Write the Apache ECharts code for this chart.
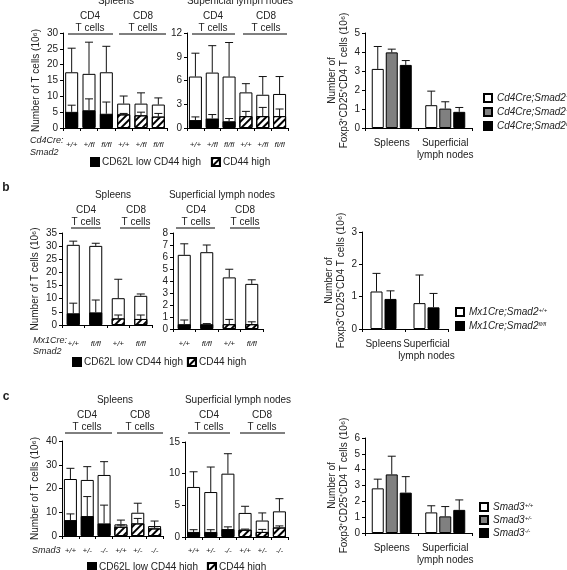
<!DOCTYPE html>
<html>
<head>
<meta charset="utf-8">
<script src="https://cdn.jsdelivr.net/npm/echarts@6/dist/echarts.min.js"></script>
<style>
html, body { margin: 0; padding: 0; background: #fff; }
#main { width: 567px; height: 570px; }
</style>
</head>
<body>
<div id="main"></div>
<script>
// ---- panel a : Cd4Cre;Smad2 ----
let a_geno = ['+/+', '+/fl', 'fl/fl', '+/+', '+/fl', 'fl/fl'];
let a_spl_total = [17.6, 17.1, 17.6, 7.7, 7.7, 7.4];
let a_spl_total_err = [25.2, 27.1, 25.8, 10.1, 11.1, 9.5];
let a_spl_sub = [5.1, 5.6, 4.5, 4.3, 4.0, 3.6];
let a_spl_sub_err = [7.2, 9.2, 8.2, 4.6, 5.0, 4.6];
let a_ln_total = [6.5, 7.0, 6.5, 4.5, 4.2, 4.3];
let a_ln_total_err = [9.45, 10.4, 10.8, 5.6, 6.5, 6.5];
let a_ln_sub = [1.0, 1.2, 0.85, 1.5, 1.5, 1.5];
let a_ln_sub_err = [1.4, 1.7, 1.2, 2.1, 2.6, 2.4];
let a_fox_names = ['Cd4Cre;Smad2+/+', 'Cd4Cre;Smad2+/fl', 'Cd4Cre;Smad2fl/fl'];
let a_fox_mean = [[3.11, 1.2], [3.98, 1.02], [3.32, 0.85]];
let a_fox_err = [[4.29, 1.94], [4.15, 1.38], [3.55, 1.08]];

// ---- panel b : Mx1Cre;Smad2 ----
let b_geno = ['+/+', 'fl/fl', '+/+', 'fl/fl'];
let b_spl_total = [30.5, 30.1, 10.2, 11.1];
let b_spl_total_err = [31.9, 31.1, 17.4, 11.8];
let b_spl_sub = [4.45, 4.8, 2.5, 2.3];
let b_spl_sub_err = [8.3, 9.5, 3.8, 3.8];
let b_ln_total = [6.18, 6.4, 4.3, 3.76];
let b_ln_total_err = [7.1, 7.0, 4.98, 4.1];
let b_ln_sub = [0.4, 0.4, 0.4, 0.4];
let b_ln_sub_err = [0.75, 0.45, 0.8, 0.6];
let b_fox_names = ['Mx1Cre;Smad2+/+', 'Mx1Cre;Smad2fl/fl'];
let b_fox_mean = [[1.16, 0.8], [0.93, 0.67]];
let b_fox_err = [[1.72, 1.67], [1.18, 1.1]];

// ---- panel c : Smad3 ----
let c_geno = ['+/+', '+/-', '-/-', '+/+', '+/-', '-/-'];
let c_spl_total = [24.0, 23.6, 25.7, 4.9, 9.8, 4.2];
let c_spl_total_err = [28.5, 29.2, 31.3, 6.7, 13.8, 6.3];
let c_spl_sub = [6.7, 8.4, 5.3, 3.9, 5.3, 3.2];
let c_spl_sub_err = [9.3, 16.6, 13.0, 4.6, 7.4, 3.9];
let c_ln_total = [7.9, 7.1, 10.0, 3.8, 2.6, 4.05];
let c_ln_total_err = [10.3, 11.05, 13.15, 4.85, 3.8, 6.05];
let c_ln_sub = [0.8, 0.8, 1.25, 1.15, 0.8, 1.5];
let c_ln_sub_err = [1.15, 1.15, 1.6, 1.25, 1.2, 1.75];
let c_fox_names = ['Smad3+/+', 'Smad3+/-', 'Smad3-/-'];
let c_fox_mean = [[2.82, 1.3], [3.7, 1.05], [2.55, 1.46]];
let c_fox_err = [[3.4, 1.72], [4.85, 1.67], [3.56, 2.09]];

let fox_cats = ['Spleens', 'Superficial\nlymph nodes'];
let fox_colors = ['#ffffff', '#808080', '#000000'];

const FONT = '"Liberation Sans", Arial, sans-serif';
const TXT = '#222';
const BAR_W = 13;
const FOX_W = 12;
const FOX_GAP = 2;

let black_style = {color: '#000', borderColor: '#000', borderWidth: 1};
let white_style = {color: '#fff', borderColor: '#000', borderWidth: 1};
let hatch_style = {
    color: '#fff', borderColor: '#000', borderWidth: 1,
    decal: {symbol: 'rect', symbolSize: 1, color: '#000', dashArrayX: [1, 0], dashArrayY: [2, 3], rotation: -Math.PI / 4}
};

// error bar: vertical line from mean to mean+sd, with a cap
function err_render(offset) {
    return function (params, api) {
        let i = api.value(0);
        let p_top = api.coord([i, api.value(1)]);
        let p_base = api.coord([i, api.value(2)]);
        let cx = p_base[0] + offset;
        return {
            type: 'group',
            children: [
                {type: 'line', shape: {x1: cx, y1: p_base[1], x2: cx, y2: p_top[1]}, style: {stroke: '#111', lineWidth: 1}},
                {type: 'line', shape: {x1: cx - 4, y1: p_top[1], x2: cx + 4, y2: p_top[1]}, style: {stroke: '#111', lineWidth: 1}}
            ]
        };
    };
}

function y_axis(grid, max, step, name, gap) {
    return {
        type: 'value', gridIndex: grid, min: 0, max: max, interval: step,
        name: name || '', nameLocation: 'middle', nameRotate: 90, nameGap: gap || 0,
        nameTextStyle: {fontFamily: FONT, fontSize: 10, color: TXT, lineHeight: 12},
        axisLine: {show: true, lineStyle: {color: '#000', width: 1}},
        axisTick: {show: true, length: 3, lineStyle: {color: '#000'}},
        axisLabel: {fontFamily: FONT, fontSize: 10, color: TXT, margin: 5},
        splitLine: {show: false}
    };
}

function x_axis(grid, cats, italic, margin, size) {
    return {
        type: 'category', gridIndex: grid, data: cats,
        axisLine: {show: true, lineStyle: {color: '#000', width: 1}},
        axisTick: {show: true, length: 3, lineStyle: {color: '#000'}},
        axisLabel: {interval: 0, fontFamily: FONT, fontSize: size, fontStyle: italic ? 'italic' : 'normal', color: TXT, margin: margin, lineHeight: 12},
        splitLine: {show: false}
    };
}

function tcell_series(grid, total, total_err, sub, sub_err, split) {
    let black = sub.map((v, i) => i < split ? v : '-');
    let hatch = sub.map((v, i) => i >= split ? v : '-');
    let err = [];
    total.forEach(function (v, i) {
        err.push([i, total_err[i], v]);
        err.push([i, sub_err[i], sub[i]]);
    });
    return [
        {type: 'bar', name: 'total', xAxisIndex: grid, yAxisIndex: grid, data: total, barWidth: BAR_W, barGap: '-100%', itemStyle: white_style, silent: true},
        {type: 'bar', name: 'CD62L low CD44 high', xAxisIndex: grid, yAxisIndex: grid, data: black, barWidth: BAR_W, barGap: '-100%', itemStyle: black_style},
        {type: 'bar', name: 'CD44 high', xAxisIndex: grid, yAxisIndex: grid, data: hatch, barWidth: BAR_W, barGap: '-100%', itemStyle: hatch_style},
        {type: 'custom', name: 'sd', xAxisIndex: grid, yAxisIndex: grid, renderItem: err_render(0), data: err, z: 5, silent: true}
    ];
}

function fox_series(grid, names, means, errs) {
    let n = names.length;
    let out = [];
    names.forEach(function (nm, k) {
        let off = (k - (n - 1) / 2) * (FOX_W + FOX_GAP);
        out.push({type: 'bar', name: nm, xAxisIndex: grid, yAxisIndex: grid, data: means[k], barWidth: FOX_W,
            barGap: (FOX_GAP / FOX_W * 100) + '%', itemStyle: {color: fox_colors[n == 2 && k == 1 ? 2 : k], borderColor: '#000', borderWidth: 1}});
        out.push({type: 'custom', name: nm + ' sd', xAxisIndex: grid, yAxisIndex: grid, renderItem: err_render(off),
            data: means[k].map((v, i) => [i, errs[k][i], v]), z: 5, silent: true});
    });
    return out;
}

function geno_legend(left, top, gap) {
    return {
        data: ['CD62L low CD44 high', 'CD44 high'], left: left, top: top, orient: 'horizontal',
        icon: 'rect', itemWidth: 8, itemHeight: 8, itemGap: gap, selectedMode: false, padding: 0,
        textStyle: {fontFamily: FONT, fontSize: 10, color: TXT, padding: [0, 0, 0, -2]}
    };
}

function fox_legend(names, left, top, gap) {
    return {
        data: names, left: left, top: top, orient: 'vertical', icon: 'rect',
        itemWidth: 8, itemHeight: 8, itemGap: gap, selectedMode: false, padding: 0,
        formatter: function (n) {
            let m = n.match(/^(.*Smad\d)(.*)$/);
            return '{i|' + m[1] + '}{s|' + m[2] + '}';
        },
        textStyle: {
            rich: {
                i: {fontFamily: FONT, fontSize: 10, fontStyle: 'italic', color: TXT},
                s: {fontFamily: FONT, fontSize: 6, fontStyle: 'italic', color: TXT, verticalAlign: 'top', lineHeight: 8}
            }
        }
    };
}

function txt(s, x, y, opt) {
    opt = opt || {};
    let font = (opt.italic ? 'italic ' : '') + (opt.bold ? 'bold ' : '') + (opt.size || 10) + 'px ' + FONT;
    let al = opt.align || 'center';
    return {type: 'text', x: x, y: y, silent: true,
        style: {text: s, font: font, fill: TXT, align: al, textAlign: al, verticalAlign: 'middle', textVerticalAlign: 'middle'}};
}

function hline(x1, x2, y) {
    return {type: 'line', silent: true, shape: {x1: x1, y1: y, x2: x2, y2: y}, style: {stroke: '#000', lineWidth: 1}};
}

let y_name_t = 'Number of T cells (10\u2076)';
let y_name_fox = 'Number of\nFoxp3\u207aCD25\u207aCD4 T cells (10\u2076)';

let grids = [
    {left: 63, top: 33, width: 104, height: 95},
    {left: 187, top: 33, width: 101, height: 95},
    {left: 365, top: 33, width: 107, height: 95},
    {left: 62, top: 233, width: 90, height: 92},
    {left: 173, top: 233, width: 90, height: 96},
    {left: 362, top: 232, width: 86, height: 97},
    {left: 62, top: 441, width: 101, height: 95},
    {left: 185, top: 442, width: 103, height: 95},
    {left: 365, top: 438, width: 107, height: 95}
].map(g => Object.assign({outerBoundsMode: 'none', containLabel: false}, g));

let x_axes = [
    x_axis(0, a_geno, true, 11, 8),
    x_axis(1, a_geno, true, 11, 8),
    x_axis(2, fox_cats, false, 9, 10),
    x_axis(3, b_geno, true, 13, 8),
    x_axis(4, b_geno, true, 9, 8),
    x_axis(5, fox_cats, false, 9, 10),
    x_axis(6, c_geno, true, 9, 8),
    x_axis(7, c_geno, true, 8, 8),
    x_axis(8, fox_cats, false, 9, 10)
];

let y_axes = [
    y_axis(0, 30, 5, y_name_t, 21),
    y_axis(1, 12, 3),
    y_axis(2, 5, 1, y_name_fox, 11),
    y_axis(3, 35, 5, y_name_t, 21),
    y_axis(4, 8, 1),
    y_axis(5, 3, 1, y_name_fox, 11),
    y_axis(6, 40, 10, y_name_t, 21),
    y_axis(7, 15, 5),
    y_axis(8, 6, 1, y_name_fox, 11)
];

let series = [].concat(
    tcell_series(0, a_spl_total, a_spl_total_err, a_spl_sub, a_spl_sub_err, 3),
    tcell_series(1, a_ln_total, a_ln_total_err, a_ln_sub, a_ln_sub_err, 3),
    fox_series(2, a_fox_names, a_fox_mean, a_fox_err),
    tcell_series(3, b_spl_total, b_spl_total_err, b_spl_sub, b_spl_sub_err, 2),
    tcell_series(4, b_ln_total, b_ln_total_err, b_ln_sub, b_ln_sub_err, 2),
    fox_series(5, b_fox_names, b_fox_mean, b_fox_err),
    tcell_series(6, c_spl_total, c_spl_total_err, c_spl_sub, c_spl_sub_err, 3),
    tcell_series(7, c_ln_total, c_ln_total_err, c_ln_sub, c_ln_sub_err, 3),
    fox_series(8, c_fox_names, c_fox_mean, c_fox_err)
);

let graphics = [
    // a
    txt('Spleens', 116, 1), txt('Superficial lymph nodes', 240, 1),
    txt('CD4', 90, 16), txt('T cells', 90, 28), hline(68, 113, 34),
    txt('CD8', 143, 16), txt('T cells', 143, 28), hline(119, 166, 34),
    txt('CD4', 213, 16), txt('T cells', 213, 28), hline(192, 235, 34),
    txt('CD8', 266, 16), txt('T cells', 266, 28), hline(243, 287, 34),
    txt('Cd4Cre:', 30, 140, {italic: true, align: 'left', size: 9}),
    txt('Smad2', 30, 152, {italic: true, align: 'left', size: 9}),
    // b
    txt('b', 6, 188, {bold: true, size: 12}),
    txt('Spleens', 113, 195), txt('Superficial lymph nodes', 222, 195),
    txt('CD4', 86, 210), txt('T cells', 86, 222), hline(71, 101, 228),
    txt('CD8', 136, 210), txt('T cells', 136, 222), hline(120, 150, 228),
    txt('CD4', 196, 210), txt('T cells', 196, 222), hline(176, 215, 228),
    txt('CD8', 245, 210), txt('T cells', 245, 222), hline(230, 260, 228),
    txt('Mx1Cre:', 33, 340, {italic: true, align: 'left', size: 9}),
    txt('Smad2', 33, 351, {italic: true, align: 'left', size: 9}),
    // c
    txt('c', 6, 397, {bold: true, size: 12}),
    txt('Spleens', 115, 400), txt('Superficial lymph nodes', 238, 400),
    txt('CD4', 87, 415), txt('T cells', 87, 427), hline(65, 112, 433),
    txt('CD8', 140, 415), txt('T cells', 140, 427), hline(117, 163, 433),
    txt('CD4', 209, 415), txt('T cells', 209, 427), hline(188, 230, 433),
    txt('CD8', 262, 415), txt('T cells', 262, 427), hline(240, 285, 433),
    txt('Smad3', 32, 550, {italic: true, align: 'left', size: 9})
];

let chart = echarts.init(document.getElementById('main'), null, {renderer: 'canvas'});
chart.setOption({
    animation: false,
    backgroundColor: '#fff',
    textStyle: {fontFamily: FONT},
    grid: grids,
    xAxis: x_axes,
    yAxis: y_axes,
    legend: [
        geno_legend(90, 157, 10),
        geno_legend(72, 357, 4),
        geno_legend(87, 562, 9),
        fox_legend(a_fox_names, 483, 93, 4),
        fox_legend(b_fox_names, 455, 307, 4),
        fox_legend(c_fox_names, 479, 502, 3)
    ],
    series: series,
    graphic: graphics
});
</script>
</body>
</html>
